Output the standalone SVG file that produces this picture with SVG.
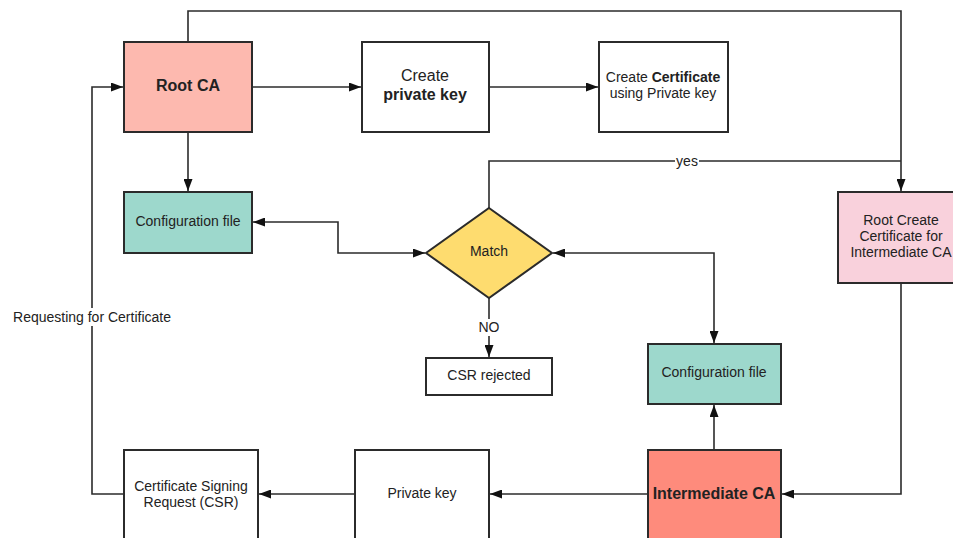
<svg xmlns="http://www.w3.org/2000/svg" width="953" height="538" viewBox="0 0 953 538">
<style>
.box{stroke:#2b2b2b;stroke-width:2}
.t{font-family:"Liberation Sans",Arial,sans-serif;font-size:14px;fill:#222;text-anchor:middle}
.b{font-weight:bold}
.big{font-size:16px}
.c{fill:none;stroke:#2b2b2b;stroke-width:1.6}
.lbl{fill:#fff}
</style>
<defs>
<marker id="ah" markerUnits="userSpaceOnUse" markerWidth="12" markerHeight="9" refX="12" refY="4.5" orient="auto-start-reverse">
<path d="M0,0 L12,4.5 L0,9 z" fill="#111"/>
</marker>
</defs>
<rect width="953" height="538" fill="#fff"/>
<g id="connectors">
<path class="c" d="M188,42 V11 H901 V191" marker-end="url(#ah)"/>
<path class="c" d="M252,87 H361" marker-end="url(#ah)"/>
<path class="c" d="M489,87 H598" marker-end="url(#ah)"/>
<path class="c" d="M188,132 V191" marker-end="url(#ah)"/>
<path class="c" d="M489,208 V161 H901"/>
<rect class="lbl" x="675" y="153" width="24" height="14"/>
<text class="t" x="687" y="166">yes</text>
<path class="c" d="M253,222 H338 V253 H425" marker-start="url(#ah)" marker-end="url(#ah)"/>
<path class="c" d="M553,253 H714 V343" marker-start="url(#ah)" marker-end="url(#ah)"/>
<path class="c" d="M489,298 V357" marker-end="url(#ah)"/>
<rect class="lbl" x="476" y="319" width="26" height="17"/>
<text class="t" x="489" y="332">NO</text>
<path class="c" d="M901,283 V494 H782" marker-end="url(#ah)"/>
<path class="c" d="M714,450 V405" marker-end="url(#ah)"/>
<path class="c" d="M648,494 H490" marker-end="url(#ah)"/>
<path class="c" d="M355,494 H259" marker-end="url(#ah)"/>
<path class="c" d="M124,494 H92 V87 H123" marker-end="url(#ah)"/>
<rect class="lbl" x="10" y="308" width="164" height="18"/>
<text class="t" x="92" y="322">Requesting for Certificate</text>
</g>
<g id="root-ca">
<rect class="box" x="124" y="42" width="128" height="90" fill="#FDB9AF"/>
<text class="t b big" x="188" y="91">Root CA</text>
</g>
<g id="create-private-key">
<rect class="box" x="362" y="42" width="127" height="90" fill="#fff"/>
<text class="t big" x="425" y="81">Create</text>
<text class="t b big" x="425" y="100">private key</text>
</g>
<g id="create-certificate">
<rect class="box" x="599" y="42" width="129" height="90" fill="#fff"/>
<text class="t" x="663" y="82">Create <tspan class="b">Certificate</tspan></text>
<text class="t" x="663" y="98">using Private key</text>
</g>
<g id="config-left">
<rect class="box" x="124" y="192" width="128" height="61" fill="#9DD8CC"/>
<text class="t" x="188" y="226">Configuration file</text>
</g>
<g id="match">
<polygon class="box" points="489,208 552,253 489,298 426,253" fill="#FEDC6F"/>
<text class="t" x="489" y="256">Match</text>
</g>
<g id="root-create-cert">
<rect class="box" x="838" y="192" width="127" height="91" fill="#F9D1DC"/>
<text class="t" x="901" y="225">Root Create</text>
<text class="t" x="901" y="241">Certificate for</text>
<text class="t" x="901" y="257">Intermediate CA</text>
</g>
<g id="csr-rejected">
<rect class="box" x="426" y="358" width="126" height="37" fill="#fff"/>
<text class="t" x="489" y="380">CSR rejected</text>
</g>
<g id="config-right">
<rect class="box" x="648" y="344" width="133" height="60" fill="#9DD8CC"/>
<text class="t" x="714" y="377">Configuration file</text>
</g>
<g id="intermediate-ca">
<rect class="box" x="648" y="450" width="133" height="95" fill="#FE8B7C"/>
<text class="t b big" x="714" y="499">Intermediate CA</text>
</g>
<g id="private-key">
<rect class="box" x="355" y="450" width="134" height="95" fill="#fff"/>
<text class="t" x="422" y="498">Private key</text>
</g>
<g id="csr">
<rect class="box" x="124" y="450" width="134" height="95" fill="#fff"/>
<text class="t" x="191" y="491">Certificate Signing</text>
<text class="t" x="191" y="507">Request (CSR)</text>
</g>
</svg>
